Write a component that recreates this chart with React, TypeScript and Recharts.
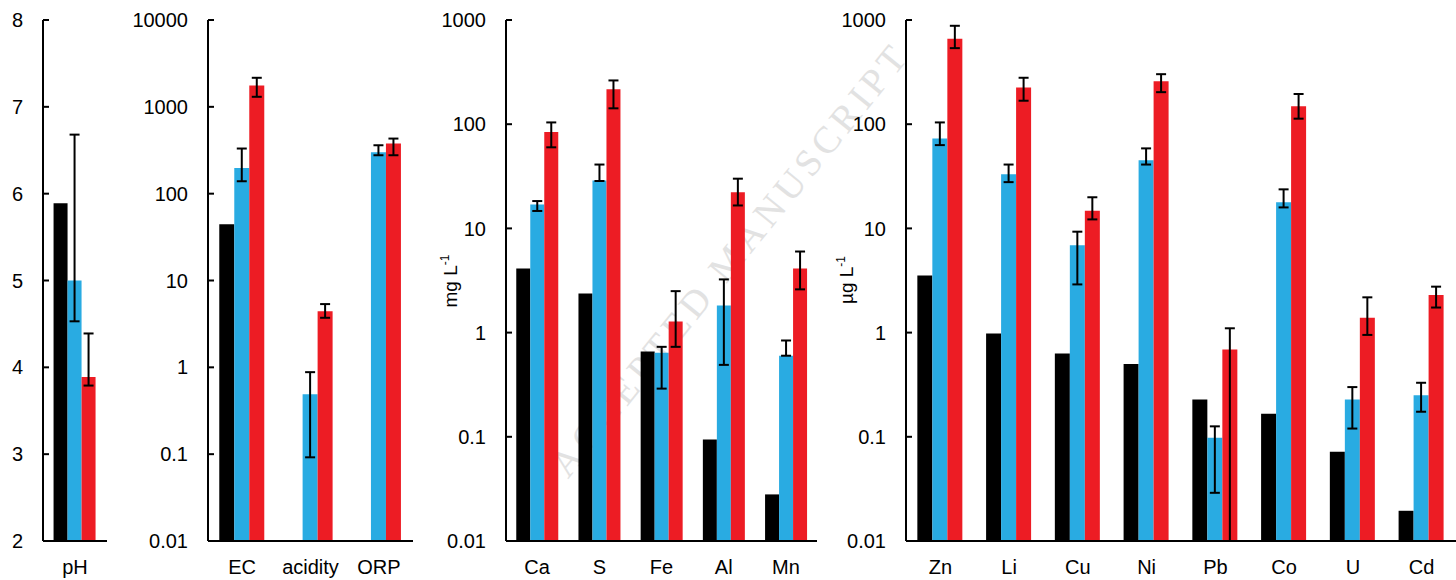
import { Bar, BarChart, ErrorBar, XAxis, YAxis } from "recharts";

const BLACK = "#000000";
const BLUE = "#29ABE2";
const RED = "#ED1C24";
const FONT = "Arial, 'Liberation Sans', Helvetica, sans-serif";

// pH panel
const phCats = ["pH"];
const phBlack = [5.89];
const phBlue = [5.0];
const phRed = [3.89];
const phBlueErr = [[4.53, 6.68]];
const phRedErr = [[3.79, 4.39]];
const phTicks = [2, 3, 4, 5, 6, 7, 8];

// EC / acidity / ORP panel
const fieldCats = ["EC", "acidity", "ORP"];
const fieldBlack = [44.4, null, null];
const fieldBlue = [198, 0.49, 300];
const fieldRed = [1760, 4.43, 378];
const fieldBlueErr = [[139, 331], [0.092, 0.88], [277, 361]];
const fieldRedErr = [[1305, 2160], [3.72, 5.35], [277, 431]];
const fieldTicks = [0.01, 0.1, 1, 10, 100, 1000, 10000];

// major elements, mg L-1
const majorCats = ["Ca", "S", "Fe", "Al", "Mn"];
const majorBlack = [4.12, 2.37, 0.66, 0.094, 0.028];
const majorBlue = [17.0, 28.8, 0.64, 1.82, 0.6];
const majorRed = [84, 216, 1.28, 22.2, 4.12];
const majorBlueErr = [[14.7, 18.3], [28.5, 41], [0.29, 0.73], [0.49, 3.24], [0.6, 0.84]];
const majorRedErr = [[60, 104], [142, 263], [0.73, 2.5], [16.6, 30], [2.6, 6.0]];

// trace elements, µg L-1
const traceCats = ["Zn", "Li", "Cu", "Ni", "Pb", "Co", "U", "Cd"];
const traceBlack = [3.53, 0.98, 0.63, 0.5, 0.228, 0.166, 0.072, 0.0195];
const traceBlue = [73, 33, 6.9, 45, 0.098, 17.8, 0.228, 0.25];
const traceRed = [660, 225, 14.8, 258, 0.69, 149, 1.39, 2.29];
const traceBlueErr = [[63, 104], [27.8, 41], [2.9, 9.3], [41, 58.6], [0.029, 0.126], [15.9, 23.7], [0.12, 0.3], [0.174, 0.33]];
const traceRedErr = [[537, 880], [168, 279], [12.2, 19.9], [203, 302], [0.01, 1.1], [113, 195], [0.95, 2.18], [1.74, 2.76]];

const logTicks = [0.01, 0.1, 1, 10, 100, 1000];

function rows(cats, b, u, r, ue, re) {
  return cats.map((cat, i) => ({
    cat,
    black: b[i],
    blue: u[i],
    red: r[i],
    blueErr: [u[i] - ue[i][0], ue[i][1] - u[i]],
    redErr: [r[i] - re[i][0], re[i][1] - r[i]],
  }));
}

function Panel({ left, width, axisW, data, scale, domain, ticks }) {
  return (
    <div style={{ position: "absolute", left, top: 0 }}>
      <BarChart
        width={width}
        height={580}
        data={data}
        margin={{ top: 20, right: 0, bottom: 0, left: 0 }}
        barGap={0}
        barCategoryGap="16.5%"
      >
        <XAxis
          dataKey="cat"
          height={39}
          interval={0}
          tickLine={false}
          tickSize={0}
          tickMargin={19}
          axisLine={{ stroke: "#000", strokeWidth: 2 }}
          tick={{ fill: "#000", fontSize: 20, fontFamily: FONT }}
        />
        <YAxis
          type="number"
          scale={scale}
          domain={domain}
          ticks={ticks}
          allowDataOverflow
          interval={0}
          width={axisW}
          tickSize={-6}
          tickMargin={26}
          tickFormatter={(v) => String(v)}
          axisLine={{ stroke: "#000", strokeWidth: 2 }}
          tickLine={{ stroke: "#000", strokeWidth: 2 }}
          tick={{ fill: "#000", fontSize: 20, fontFamily: FONT }}
        />
        <Bar dataKey="black" fill={BLACK} isAnimationActive={false} />
        <Bar dataKey="blue" fill={BLUE} isAnimationActive={false}>
          <ErrorBar dataKey="blueErr" width={5} stroke="#000" strokeWidth={2} direction="y" isAnimationActive={false} />
        </Bar>
        <Bar dataKey="red" fill={RED} isAnimationActive={false}>
          <ErrorBar dataKey="redErr" width={5} stroke="#000" strokeWidth={2} direction="y" isAnimationActive={false} />
        </Bar>
      </BarChart>
    </div>
  );
}

export default function App() {
  return (
    <div style={{ position: "absolute", left: 0, top: 0, width: 1456, height: 580, background: "#fff", overflow: "hidden" }}>
      <svg width={1456} height={580} style={{ position: "absolute", left: 0, top: 0 }}>
        <text
          transform="translate(733,262) rotate(-51)"
          textAnchor="middle"
          dominantBaseline="middle"
          fontFamily="'Times New Roman', 'Liberation Serif', serif"
          fontSize={38}
          letterSpacing={5}
          fill="#e2e2e2"
        >
          ACCEPTED MANUSCRIPT
        </text>
        <text transform="translate(457,281) rotate(-90)" textAnchor="middle" fontFamily={FONT} fontSize={19} fill="#000">
          mg L<tspan dy={-8} fontSize={12}>-1</tspan>
        </text>
        <text transform="translate(853,280) rotate(-90)" textAnchor="middle" fontFamily={FONT} fontSize={19} fill="#000">
          µg L<tspan dy={-8} fontSize={12}>-1</tspan>
        </text>
      </svg>
      <Panel left={0} width={107} axisW={43} scale="linear" domain={[2, 8]} ticks={phTicks}
        data={rows(phCats, phBlack, phBlue, phRed, phBlueErr, phRedErr)} />
      <Panel left={130} width={283} axisW={78} scale="log" domain={[0.01, 10000]} ticks={fieldTicks}
        data={rows(fieldCats, fieldBlack, fieldBlue, fieldRed, fieldBlueErr, fieldRedErr)} />
      <Panel left={420} width={397} axisW={86} scale="log" domain={[0.01, 1000]} ticks={logTicks}
        data={rows(majorCats, majorBlack, majorBlue, majorRed, majorBlueErr, majorRedErr)} />
      <Panel left={830} width={626} axisW={76} scale="log" domain={[0.01, 1000]} ticks={logTicks}
        data={rows(traceCats, traceBlack, traceBlue, traceRed, traceBlueErr, traceRedErr)} />
    </div>
  );
}
